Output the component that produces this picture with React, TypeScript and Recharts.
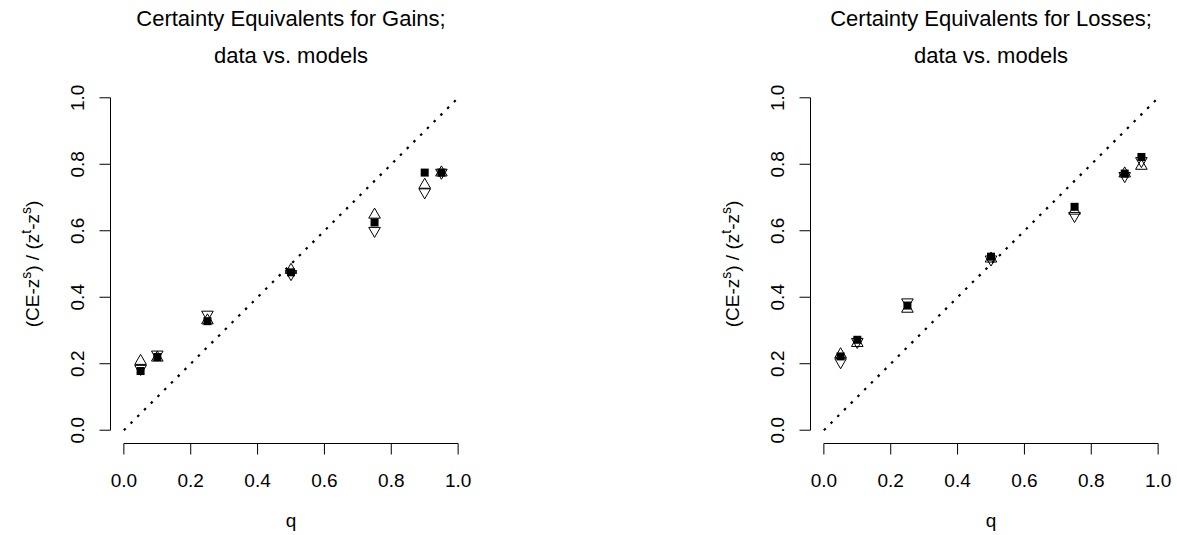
import React from 'react';
import { ScatterChart, Scatter, XAxis, YAxis, ReferenceLine } from 'recharts';

const qValues = [0.05, 0.1, 0.25, 0.5, 0.75, 0.9, 0.95];

const gainsObserved = [0.178, 0.22, 0.328, 0.475, 0.625, 0.775, 0.775];
const gainsModelUp = [0.208, 0.218, 0.33, 0.482, 0.648, 0.738, 0.775];
const gainsModelDown = [0.185, 0.228, 0.348, 0.47, 0.6, 0.716, 0.775];

const lossesObserved = [0.222, 0.272, 0.375, 0.522, 0.672, 0.772, 0.822];
const lossesModelUp = [0.228, 0.262, 0.365, 0.516, 0.66, 0.772, 0.795];
const lossesModelDown = [0.205, 0.266, 0.385, 0.514, 0.645, 0.765, 0.81];

const axisTicks = [0, 0.2, 0.4, 0.6, 0.8, 1];
const tickLabels = ['0.0', '0.2', '0.4', '0.6', '0.8', '1.0'];

const gainsTitle = ['Certainty Equivalents for Gains;', 'data vs. models'];
const lossesTitle = ['Certainty Equivalents for Losses;', 'data vs. models'];
const xTitle = 'q';

const FONT = '"Liberation Sans", Arial, Helvetica, sans-serif';
const W = 477;
const H = 535;
const MARGIN = { top: 84.5, right: 5.5, bottom: 31.5, left: 50.5 };
const DOMAIN: [number, number] = [-0.04, 1.04];

const toPoints = (ys: number[]) => qValues.map((q, i) => ({ q, v: ys[i] }));
const labelFor = (v: number) => {
  const i = axisTicks.findIndex((t) => Math.abs(t - v) < 1e-9);
  return i >= 0 ? tickLabels[i] : String(v);
};

const XTick = (p: any) => (
  <text x={p.x} y={487} textAnchor="middle" fontSize={19} fontFamily={FONT} fill="#000">
    {labelFor(p.payload.value)}
  </text>
);

const YTick = (p: any) => (
  <text
    x={84}
    y={p.y}
    transform={`rotate(-90 84 ${p.y})`}
    textAnchor="middle"
    fontSize={19}
    fontFamily={FONT}
    fill="#000"
  >
    {labelFor(p.payload.value)}
  </text>
);

const XTitle = () => (
  <text x={291} y={527} textAnchor="middle" fontSize={19} fontFamily={FONT} fill="#000">
    {xTitle}
  </text>
);

const YTitle = () => (
  <text
    x={39}
    y={264}
    transform="rotate(-90 39 264)"
    textAnchor="middle"
    fontSize={19}
    fontFamily={FONT}
    fill="#000"
  >
    <tspan>(CE-z</tspan>
    <tspan dy={-8} fontSize={14}>s</tspan>
    <tspan dy={8}>) / (z</tspan>
    <tspan dy={-8} fontSize={14}>t</tspan>
    <tspan dy={8}>-z</tspan>
    <tspan dy={-8} fontSize={14}>s</tspan>
    <tspan dy={8}>)</tspan>
  </text>
);

const Square = (p: any) => <rect x={p.cx - 4} y={p.cy - 4} width={8} height={8} fill="#000" />;

const UpTri = (p: any) => {
  const r = 6.7;
  const hw = 5.8;
  return (
    <polygon
      points={`${p.cx},${p.cy - r} ${p.cx - hw},${p.cy + r / 2} ${p.cx + hw},${p.cy + r / 2}`}
      fill="none"
      stroke="#000"
      strokeWidth={1}
    />
  );
};

const DownTri = (p: any) => {
  const r = 6.7;
  const hw = 5.8;
  return (
    <polygon
      points={`${p.cx},${p.cy + r} ${p.cx - hw},${p.cy - r / 2} ${p.cx + hw},${p.cy - r / 2}`}
      fill="none"
      stroke="#000"
      strokeWidth={1}
    />
  );
};

function Panel({ left, title, observed, up, down }: any) {
  return (
    <div style={{ position: 'absolute', left, top: 0, width: W, height: H }}>
      <ScatterChart width={W} height={H} margin={MARGIN}>
        <XAxis
          type="number"
          dataKey="q"
          domain={DOMAIN}
          ticks={axisTicks}
          interval={0}
          height={60}
          tickSize={11}
          axisLine={false}
          tickLine={{ stroke: '#000', strokeWidth: 1 }}
          tick={XTick}
          allowDataOverflow
          label={<XTitle />}
        />
        <YAxis
          type="number"
          dataKey="v"
          domain={DOMAIN}
          ticks={axisTicks}
          interval={0}
          width={60}
          tickSize={11}
          axisLine={false}
          tickLine={{ stroke: '#000', strokeWidth: 1 }}
          tick={YTick}
          allowDataOverflow
          label={<YTitle />}
        />
        <ReferenceLine
          segment={[{ x: 0, y: -0.04 }, { x: 1, y: -0.04 }]}
          stroke="#000"
          strokeWidth={1}
          ifOverflow="visible"
        />
        <ReferenceLine
          segment={[{ x: -0.04, y: 0 }, { x: -0.04, y: 1 }]}
          stroke="#000"
          strokeWidth={1}
          ifOverflow="visible"
        />
        <ReferenceLine
          segment={[{ x: 0, y: 0 }, { x: 1, y: 1 }]}
          stroke="#000"
          strokeWidth={2.2}
          strokeDasharray="2.5 7"
          ifOverflow="visible"
        />
        <Scatter data={toPoints(observed)} shape={Square} isAnimationActive={false} />
        <Scatter data={toPoints(up)} shape={UpTri} isAnimationActive={false} />
        <Scatter data={toPoints(down)} shape={DownTri} isAnimationActive={false} />
      </ScatterChart>
      <svg
        width={W}
        height={80}
        style={{ position: 'absolute', left: 0, top: 0, pointerEvents: 'none' }}
      >
        <text x={291} y={26} textAnchor="middle" fontSize={22} fontFamily={FONT} fill="#000">
          {title[0]}
        </text>
        <text x={291} y={63} textAnchor="middle" fontSize={22} fontFamily={FONT} fill="#000">
          {title[1]}
        </text>
      </svg>
    </div>
  );
}

export default function App() {
  return (
    <div
      style={{
        position: 'absolute',
        left: 0,
        top: 0,
        width: 1177,
        height: 535,
        background: '#fff',
        overflow: 'hidden',
      }}
    >
      <Panel left={0} title={gainsTitle} observed={gainsObserved} up={gainsModelUp} down={gainsModelDown} />
      <Panel left={700} title={lossesTitle} observed={lossesObserved} up={lossesModelUp} down={lossesModelDown} />
    </div>
  );
}
